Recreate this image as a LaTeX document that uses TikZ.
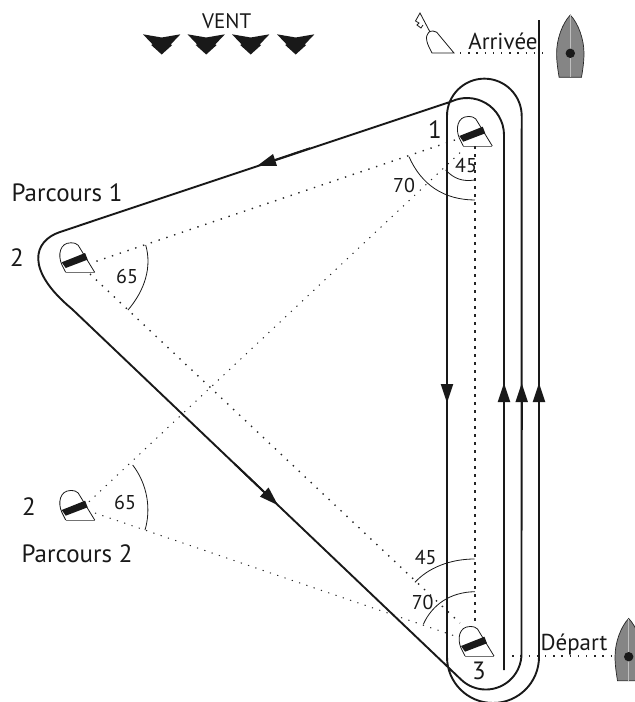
\documentclass[tikz,border=0pt]{standalone}
\usepackage{fontspec}
\setmainfont{PT Sans}
\usetikzlibrary{arrows.meta}
\tikzset{
  trait/.style={line width=1.9pt, black!90},
  arc fin/.style={line width=0.8pt, black!90},
  pointille/.style={line width=1.4pt, dash pattern=on 1.4pt off 6.8pt, black!85},
  pointille fin/.style={line width=1pt, dash pattern=on 1.2pt off 6.5pt, black!85},
  axe/.style={line width=1.3pt, dash pattern=on 3.3pt off 4.7pt, black!85},
  tete/.style={line width=1.9pt, black!90, -{Triangle[length=19pt,width=12pt]}},
  grand/.style={font=\fontsize{25}{27}\selectfont, text=black!90, inner sep=0pt},
  moyen/.style={font=\fontsize{20}{22}\selectfont, text=black!90, inner sep=0pt},
  titre/.style={font=\fontsize{25}{27}\selectfont, text=black!90, inner sep=0pt},
  legende/.style={font=\fontsize{23}{25}\selectfont, text=black!90, inner sep=0pt}
}
\newcommand{\bouee}[1]{
  \begin{scope}[shift={#1}, yscale=-1]
    \draw[line width=0.8pt, black!90] (0,0) -- (-4,-8) .. controls (-8,-17) and (-6,-29.5) .. (5,-29.5) .. controls (9,-29.5) and (11,-28.5) .. (12.5,-27) -- (29,0);
    \draw[line width=0.9pt, black!55] (0,0) -- (29,0);
    \fill[black!90] (-4,-10) -- (19.4,-19.3) -- (22,-12.7) -- (0,-4.3) -- cycle;
  \end{scope}
}
\newcommand{\bateau}[1]{
  \begin{scope}[shift={#1}, yscale=-1]
    \filldraw[fill=black!48, draw=black!85, line width=0.7pt] (0,-38.3) .. controls (-8,-30) and (-13.7,-14) .. (-13.7,0) .. controls (-13.7,8) and (-12.5,16) .. (-11.2,24) -- (11.2,24) .. controls (12.5,16) and (13.7,8) .. (13.7,0) .. controls (13.7,-14) and (8,-30) .. (0,-38.3) -- cycle;
    \draw[black!25, line width=0.6pt] (0,-38) -- (0,24);
    \fill[black!90] (0,0) circle (4.7);
  \end{scope}
}
\begin{document}
\begin{tikzpicture}[x=1pt, y=1pt]
\clip (0,-702) rectangle (635,0);

%marks
\bouee{(463.3,-146)}
\bouee{(65.7,-272.3)}
\bouee{(65.7,-520)}
\bouee{(465,-656)}
\bateau{(570.3,-53.3)}
\bateau{(628.7,-656.7)}

%small mark with flag
\draw[line width=0.8pt, black!90] (432,-53) -- (429,-47) .. controls (425,-39) and (425.5,-31) .. (433,-31) .. controls (436,-31) and (438,-33) .. (439,-35) -- (454,-53) -- cycle;
\draw[line width=0.8pt, black!90] (430,-32) -- (420,-13) -- (415.5,-21) -- (419,-23) -- (417,-25) -- (421,-28) -- (423,-25);

%wind
\foreach \x in {161.7,206.2,250.7,295.7}
  \fill[black!90] (\x-18.7,-34.3) -- (\x,-37.5) -- (\x+18.7,-34.3) -- (\x+9,-44.5) -- (\x+10.5,-45) -- (\x,-54.5) -- (\x-10.5,-45) -- (\x-9,-44.5) -- cycle;

%nodes
\node (vent) [moyen, font=\fontsize{21}{23}\selectfont] at (226.7,-21) {VENT};
\node (arrivee) [legende] at (503,-41) {Arrivée};
\node (depart) [legende] at (574,-645) {Départ};
\node (parcoursA) [titre] at (67,-193) {Parcours 1};
\node (parcoursB) [titre] at (77,-554) {Parcours 2};
\node (un) [grand] at (435,-130) {1};
\node (deuxA) [grand] at (17,-258) {2};
\node (deuxB) [grand] at (29,-507) {2};
\node (trois) [grand] at (479,-671) {3};
\node (a45h) [moyen] at (466,-166) {45};
\node (a70h) [moyen] at (404,-185) {70};
\node (a65h) [moyen] at (127,-276) {65};
\node (a65b) [moyen] at (125,-502) {65};
\node (a45b) [moyen] at (425.7,-558) {45};
\node (a70b) [moyen] at (422.7,-602) {70};

%sight lines
\coordinate (M1g) at (455,-140);
\coordinate (M1d) at (460,-152.7);
\coordinate (M1b) at (475,-146);
\coordinate (M2h) at (95,-261.7);
\coordinate (M2b) at (90,-274);
\coordinate (N2h) at (88,-502.7);
\coordinate (N2b) at (95,-513);
\coordinate (M3h) at (475,-625);
\coordinate (M3g) at (460,-623);
\coordinate (M3l) at (455,-636);
\draw[pointille] (M1g) -- (M2h);
\draw[pointille] (M2b) -- (M3g);
\draw[pointille fin] (M1d) -- (N2h);
\draw[pointille fin] (N2b) -- (M3l);
\draw[axe] (M1b) -- (M3h);
\draw[pointille] (460,-53) -- (550,-53);
\draw[pointille] (504,-656) -- (612,-656);

%angle arcs
\draw[arc fin] (445.7,-170) to[bend right=28] (474.5,-180);
\draw[arc fin] (409,-156.7) to[bend right=33] (475,-200);
\draw[arc fin] (145.7,-245) .. controls (152,-267) and (145,-290) .. (128,-310);
\draw[arc fin] (132.7,-465) .. controls (148,-485) and (151,-510) .. (145,-530);
\draw[arc fin] (415,-582.3) .. controls (428,-568) and (450,-559) .. (474.5,-559);
\draw[arc fin] (423.3,-624.3) .. controls (432,-605) and (450,-592) .. (475,-591.7);

%course
\draw[trait, line join=round] (504,-670) -- (504,-135) arc[start angle=0, end angle=115, radius=37]
  -- (60,-232) .. controls (33,-241) and (25,-270) .. (72,-309)
  -- (461,-679.5) arc[start angle=226, end angle=360, radius=35.7]
  -- (521.7,-116) arc[start angle=0, end angle=180, radius=37.35]
  -- (447,-657) arc[start angle=180, end angle=360, radius=46]
  -- (539,-20);

%arrow heads
\draw[tete] (310,-148.2) -- (257,-166);
\draw[tete] (447,-340) -- (447,-403);
\draw[tete] (504,-430) -- (504,-383);
\draw[tete] (521.7,-430) -- (521.7,-383);
\draw[tete] (539,-430) -- (539,-383);
\draw[tete] (235,-464.2) -- (278,-505.2);
\end{tikzpicture}
\end{document}
